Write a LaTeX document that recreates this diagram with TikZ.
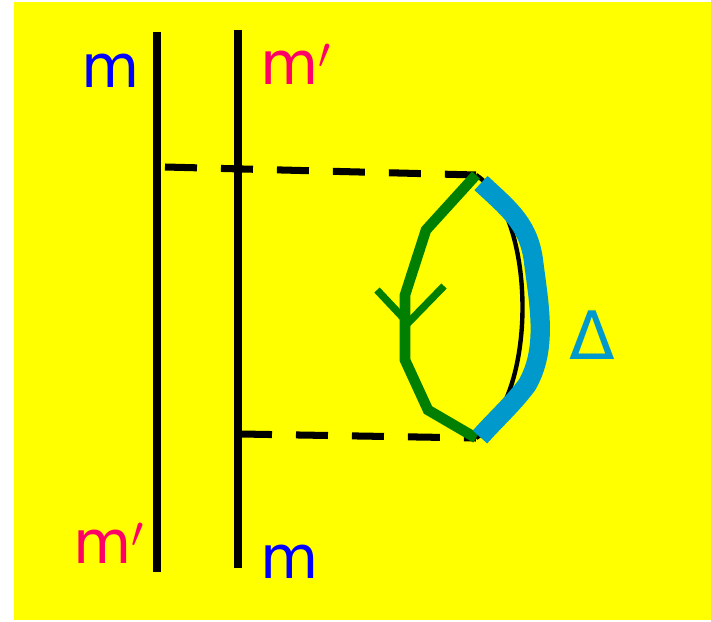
\documentclass[tikz,border=0pt]{standalone}
\usepackage{fontspec}
\usepackage{xcolor}
\usepackage{tikz}
\usetikzlibrary{positioning,calc}
\newfontfamily\handfont{DejaVu Sans}
\definecolor{bgyellow}{HTML}{FFFF00}
\definecolor{mblue}{HTML}{0000FF}
\definecolor{mpink}{HTML}{FF0066}
\definecolor{deltablue}{HTML}{0099CC}
\definecolor{pathgreen}{HTML}{007F00}

\begin{document}
\begin{tikzpicture}[x=0.02cm, y=-0.02cm,
  every node/.style={inner sep=0pt, font=\handfont\fontsize{34}{34}\selectfont},
  mirror/.style={line width=4pt, black},
  dashline/.style={line width=4pt, black, dash pattern=on 0.64cm off 0.48cm},
  lbl/.style={anchor=base}
]
\useasboundingbox (0,0) rectangle (711,622);
\fill[bgyellow] (14,2) rectangle (711,620);

% the two mirrors
\coordinate (l1) at (157,32);  \coordinate (l2) at (157,572);
\coordinate (r1) at (238,30);  \coordinate (r2) at (238,568);
\draw[mirror] (l1) -- (l2);
\draw[mirror] (r1) -- (r2);

\node[lbl, text=mblue] (mtl) at (111,88) {m};
\node[lbl, text=mpink] (mtr) at (296,84) {m$'$};
\node[lbl, text=mpink] (mbl) at (109,563) {m$'$};
\node[lbl, text=mblue] (mbr) at (290,578) {m};

% end points of the loop
\coordinate (pa) at (476,175);
\coordinate (pb) at (476,438);
\draw[dashline] (165,167) -- (pa);
\draw[dashline] (240,434) -- (pb);

% black arc behind delta
\draw[line width=2.5pt] (pa) .. controls (538,215) and (538,400) .. (pb);

% green path with arrow
\draw[pathgreen, line width=6pt, line join=miter]
  (pa) -- (426,230) -- (405,295) -- (405,360) -- (428,410) -- (pb);
\draw[pathgreen, line width=4.2pt] (377,290) -- (408,323) -- (444,286);

% blue delta path
\draw[deltablue, line width=11pt]
  (481,183) .. controls (510,210) and (530,225) .. (534,265)
  .. controls (540,310) and (547,350) .. (527,385)
  .. controls (512,405) and (495,420) .. (480,437);
\node[text=deltablue, font=\handfont\fontsize{38}{38}\selectfont] (delta) at (592,335) {Δ};
\end{tikzpicture}
\end{document}
